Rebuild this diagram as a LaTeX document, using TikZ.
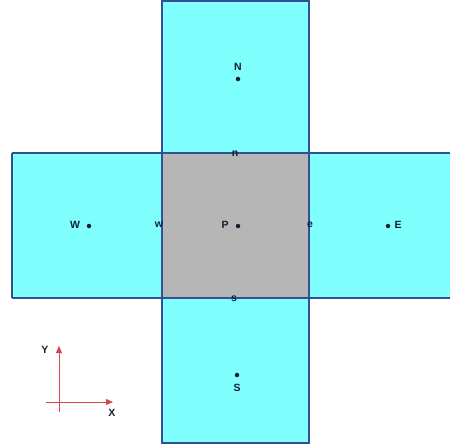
\documentclass[tikz,border=0pt]{standalone}
\usepackage{fontspec}
\setmainfont{Liberation Sans}
\usetikzlibrary{arrows.meta}
\definecolor{cellcyan}{RGB}{128,255,255}
\definecolor{cellgrey}{RGB}{182,182,182}
\definecolor{edgeblue}{RGB}{50,80,150}
\definecolor{txt}{RGB}{20,30,50}
\definecolor{axred}{RGB}{215,70,80}
\tikzset{
  lbl/.style={font=\fontsize{10.5}{10.5}\selectfont\bfseries, text=txt, inner sep=0pt},
  pt/.style={circle, fill=txt, inner sep=0pt, minimum size=4.5pt},
  axis/.style={draw=axred, line width=0.8pt, -{Triangle[length=7pt,width=6pt,fill=axred]}},
}
\begin{document}
\begin{tikzpicture}[x=1pt,y=-1pt]
\useasboundingbox (0,0) rectangle (450,445);
% cells
\fill[cellcyan] (12,153) rectangle (451,298);
\fill[cellcyan] (162,1) rectangle (309,443);
\fill[cellgrey] (162,153) rectangle (309,298);
\draw[edgeblue, line width=1.1pt] (12,153) -- (451,153);
\draw[edgeblue, line width=1.1pt] (12,298) -- (451,298);
\draw[edgeblue, line width=1.1pt] (12,153) -- (12,298);
\draw[edgeblue, line width=1.1pt] (162,1) rectangle (309,443);
% nodes
\node[pt] (Pd) at (238,226) {};
\node[lbl] (P) at (225,225) {P};
\node[pt] (Wd) at (89,226) {};
\node[lbl] (W) at (75,225) {W};
\node[pt] (Ed) at (388,226) {};
\node[lbl] (E) at (398,225) {E};
\node[pt] (Nd) at (238,79) {};
\node[lbl] (N) at (238,67) {N};
\node[pt] (Sd) at (237,375) {};
\node[lbl] (S) at (237,388) {S};
\node[lbl] (n) at (235,154) {n};
\node[lbl] (s) at (234,299) {s};
\node[lbl] (w) at (159,225) {w};
\node[lbl] (e) at (310,225) {e};
% axes
\coordinate (yb) at (59,412);
\coordinate (yt) at (59,346);
\coordinate (xl) at (46,402);
\coordinate (xr) at (113,402);
\draw[axis] (yb) -- (yt);
\draw[axis] (xl) -- (xr);
\node[lbl] (Y) at (45,350) {Y};
\node[lbl] (X) at (112,413) {X};
\end{tikzpicture}
\end{document}
